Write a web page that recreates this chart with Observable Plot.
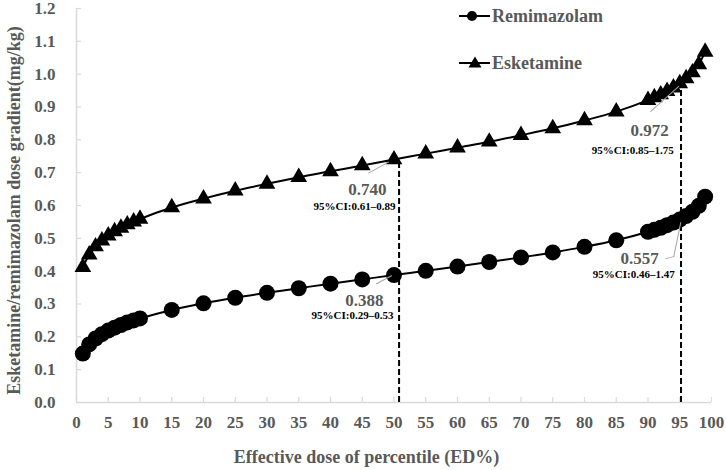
<!DOCTYPE html>
<html><head><meta charset="utf-8">
<script src="https://cdn.jsdelivr.net/npm/d3@7"></script>
<script src="https://cdn.jsdelivr.net/npm/@observablehq/plot@0.6"></script>
<style>
html,body{margin:0;padding:0;background:#fff;}
#wrap{position:relative;width:726px;height:470px;overflow:hidden;}
#legend{position:absolute;left:0;top:0;pointer-events:none;}
</style></head><body>
<div id="wrap"></div>
<script>
// ---- data ----
const percentiles = [1,2,3,4,5,6,7,8,9,10,15,20,25,30,35,40,45,50,55,60,65,70,75,80,85,90,91,92,93,94,95,96,97,98,99];
const remimazolam = [0.149,0.177,0.195,0.208,0.219,0.228,0.236,0.244,0.250,0.256,0.282,0.302,0.319,0.334,0.348,0.362,0.375,0.388,0.401,0.414,0.428,0.442,0.457,0.474,0.494,0.520,0.526,0.532,0.540,0.548,0.557,0.568,0.581,0.599,0.627];
const esketamine = [0.412,0.450,0.475,0.493,0.508,0.521,0.532,0.542,0.551,0.559,0.594,0.621,0.645,0.666,0.686,0.704,0.722,0.740,0.758,0.776,0.794,0.814,0.835,0.859,0.886,0.921,0.929,0.938,0.948,0.959,0.972,0.987,1.005,1.030,1.068];
const xTicks = [0,5,10,15,20,25,30,35,40,45,50,55,60,65,70,75,80,85,90,95,100];
const yTicks = [0,0.1,0.2,0.3,0.4,0.5,0.6,0.7,0.8,0.9,1.0,1.1,1.2];
const refX = [50.8, 95.2];
const refTop = [0.740, 0.972];
const annX = [50, 95, 50, 95];
const annY = [0.740, 0.972, 0.388, 0.557];
const annValue = ["0.740", "0.972", "0.388", "0.557"];
const annCI = ["95%CI:0.61–0.89", "95%CI:0.85–1.75", "95%CI:0.29–0.53", "95%CI:0.46–1.47"];
const seriesNames = ["Remimazolam", "Esketamine"];
const xLabel = "Effective dose of percentile (ED%)";
const yLabel = "Esketamine/remimazolam dose gradient(mg/kg)";

// ---- build ----
const W = 726, H = 470, mL = 76, mR = 15, mT = 8, mB = 68;
const plotW = W - mL - mR, plotH = H - mT - mB;
const gray = "#595959", axisGray = "#d9d9d9";
const font = "'Liberation Serif','Times New Roman',serif";

const remiData = percentiles.map((p, i) => ({p, v: remimazolam[i]}));
const eskData = percentiles.map((p, i) => ({p, v: esketamine[i]}));
const refs = refX.map((x, i) => ({x, top: refTop[i]}));
const ann = annX.map((x, i) => ({x, y: annY[i], value: annValue[i], ci: annCI[i]}));

const annStyle = [
  {vdx: -7.5, vdy: 29.6, cdx: 1.5, cdy: 46.6, leader: [[-25.5, 13.6], [-5.5, 2.6]]},
  {vdx: -11, vdy: 47, cdx: -6, cdy: 67, leader: [[-29, 28], [-1, 3]]},
  {vdx: -10.5, vdy: 25.7, cdx: -0.5, cdy: 40.7, leader: [[-17.5, 8.7], [-2.5, 0.7]]},
  {vdx: -21, vdy: 39.3, cdx: -5, cdy: 55.3, leader: [[-14, 39], [-6, 37], [1, 3]]}
];
const segShape = {draw(ctx, l) { ctx.moveTo(0, 0); ctx.lineTo(0, -l); }};

const marks = [
  Plot.ruleX([0], {stroke: axisGray, strokeWidth: 1.5}),
  Plot.ruleY([0], {stroke: axisGray, strokeWidth: 1.5}),
  Plot.tickX(xTicks, {x: d => d, stroke: axisGray, strokeWidth: 1.2, insetTop: plotH - 5}),
  Plot.tickY(yTicks, {y: d => d, stroke: axisGray, strokeWidth: 1.2, insetRight: plotW - 5}),
  Plot.axisX({ticks: xTicks, tickSize: 0, tickPadding: 13, label: null, fontSize: 17, fontWeight: "bold", fill: gray}),
  Plot.axisY({ticks: yTicks, tickSize: 0, tickPadding: 21, label: null, tickFormat: d => d.toFixed(1), fontSize: 17, fontWeight: "bold", fill: gray}),
  Plot.text([xLabel], {frameAnchor: "bottom", textAnchor: "middle", text: d => d, dx: -27.5, dy: 60, fontSize: 18, fontWeight: "bold", fill: gray}),
  Plot.text([yLabel], {frameAnchor: "left", textAnchor: "middle", text: d => d, rotate: -90, dx: -62, dy: 5, fontSize: 18, fontWeight: "bold", fill: gray}),
  Plot.line(remiData, {x: "p", y: "v", stroke: "black", strokeWidth: 2, curve: "monotone-x"}),
  Plot.line(eskData, {x: "p", y: "v", stroke: "black", strokeWidth: 2, curve: "monotone-x"}),
  Plot.ruleX(refs, {x: "x", y1: 0, y2: "top", stroke: "black", strokeWidth: 2, strokeDasharray: "6,3"}),
  Plot.dot(remiData, {x: "p", y: "v", r: 8, fill: "black"}),
  Plot.dot(eskData, {x: "p", y: "v", symbol: "triangle", r: 6.2, fill: "black"})
];

ann.forEach((a, i) => {
  const s = annStyle[i];
  for (let k = 0; k < s.leader.length - 1; k++) {
    const [x0, y0] = s.leader[k], [x1, y1] = s.leader[k + 1];
    const len = Math.hypot(x1 - x0, y1 - y0);
    const rot = Math.atan2(x1 - x0, -(y1 - y0)) * 180 / Math.PI;
    marks.push(Plot.vector([a], {x: "x", y: "y", dx: x0, dy: y0, length: len, rotate: rot, anchor: "start", shape: segShape, stroke: "#a6a6a6", strokeWidth: 1}));
  }
  marks.push(Plot.text([a], {x: "x", y: "y", text: "value", dx: s.vdx, dy: s.vdy, textAnchor: "end", fontSize: 17, fontWeight: "bold", fill: gray}));
  marks.push(Plot.text([a], {x: "x", y: "y", text: "ci", dx: s.cdx, dy: s.cdy, textAnchor: "end", fontSize: 11, fontWeight: "bold", fill: "black"}));
});

const chart = Plot.plot({
  width: W, height: H,
  marginLeft: mL, marginRight: mR, marginTop: mT, marginBottom: mB,
  x: {domain: [0, 100]},
  y: {domain: [0, 1.2]},
  style: {fontFamily: font, fontSize: "17px", color: gray, background: "white", overflow: "visible"},
  marks
});
const wrap = document.getElementById("wrap");
wrap.appendChild(chart);

// legend overlay
const lg = `<svg id="legend" width="${W}" height="90" xmlns="http://www.w3.org/2000/svg" style="font-family:${font};font-weight:bold;font-size:18px" fill="${gray}">
  <line x1="459" y1="16" x2="490" y2="16" stroke="black" stroke-width="2"/>
  <circle cx="472" cy="16" r="5" fill="black"/>
  <text x="492" y="16" dy="0.33em">${seriesNames[0]}</text>
  <line x1="459" y1="63" x2="490" y2="63" stroke="black" stroke-width="2"/>
  <polygon points="468.5,67.5 481.5,67.5 475,56.5" fill="black"/>
  <text x="492" y="63" dy="0.33em">${seriesNames[1]}</text>
</svg>`;
wrap.insertAdjacentHTML("beforeend", lg);
</script>
</body></html>
